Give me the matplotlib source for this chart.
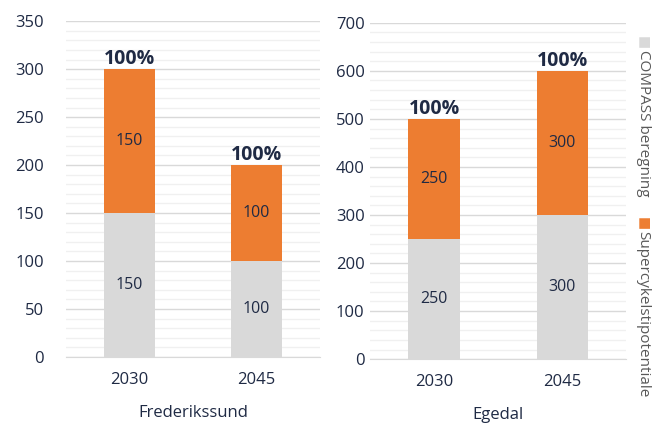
import matplotlib
matplotlib.use('Agg')
import matplotlib.pyplot as plt
import numpy as np

years = ["2030", "2045"]
frederikssund_compass = [150, 100]
frederikssund_super = [150, 100]
egedal_compass = [250, 300]
egedal_super = [250, 300]
share_labels = ["100%", "100%"]

GREY = "#d9d9d9"
ORANGE = "#ed7d31"
TEXT = "#1f2a44"
plt.rcParams['font.family'] = ['Open Sans', 'DejaVu Sans']

fig = plt.figure(figsize=(6.55, 4.23), dpi=100)
ax1 = fig.add_axes([0.1008, 0.156, 0.388, 0.794])
ax2 = fig.add_axes([0.565, 0.151, 0.391, 0.795])


def drawPanel(ax, compass, superc, ymax, step, name):
    x = np.arange(len(years))
    ax.bar(x, compass, width=0.4, color=GREY, zorder=3)
    ax.bar(x, superc, width=0.4, bottom=compass, color=ORANGE, zorder=3)
    for i in range(len(years)):
        ax.text(x[i], compass[i] / 2, str(compass[i]), ha="center", va="center",
                fontsize=11.5, color=TEXT, zorder=4)
        ax.text(x[i], compass[i] + superc[i] / 2, str(superc[i]), ha="center",
                va="center", fontsize=11.5, color=TEXT, zorder=4)
        ax.text(x[i], compass[i] + superc[i], share_labels[i], ha="center",
                va="bottom", fontsize=14, fontweight="bold", color=TEXT, zorder=4)
    ax.set_xlim(-0.5, len(years) - 0.5)
    ax.set_ylim(0, ymax)
    ax.set_yticks(np.arange(0, ymax + 1, step))
    ax.set_yticks(np.arange(0, ymax + 1, step / 5), minor=True)
    ax.set_xticks(x)
    ax.set_xticklabels(years)
    ax.grid(axis="y", which="major", color="#d9d9d9", linewidth=1.0, zorder=0)
    ax.grid(axis="y", which="minor", color="#f0f0f0", linewidth=1.0, zorder=0)
    ax.tick_params(axis="both", which="both", length=0, labelsize=12,
                   colors=TEXT)
    ax.tick_params(axis="y", pad=16)
    ax.tick_params(axis="x", pad=11)
    for s in ["top", "right", "left"]:
        ax.spines[s].set_visible(False)
    ax.spines["bottom"].set_color("#d9d9d9")
    ax.set_xlabel(name, fontsize=12, color=TEXT, labelpad=12)


drawPanel(ax1, frederikssund_compass, frederikssund_super, 350, 50, "Frederikssund")
drawPanel(ax2, egedal_compass, egedal_super, 700, 100, "Egedal")
ax2.tick_params(axis="y", pad=4)

# vertical legend on the right
fig.text(0.982, 0.915, "■", rotation=-90, color=GREY, fontsize=10,
         ha="center", va="top")
fig.text(0.982, 0.882, "COMPASS beregning", rotation=-90, color="#595959",
         fontsize=11, ha="center", va="top")
fig.text(0.982, 0.488, "■", rotation=-90, color=ORANGE, fontsize=10,
         ha="center", va="top")
fig.text(0.982, 0.455, "Supercykelstipotentiale", rotation=-90, color="#595959",
         fontsize=11, ha="center", va="top")

plt.savefig("out.png", dpi=100)
plt.close()
